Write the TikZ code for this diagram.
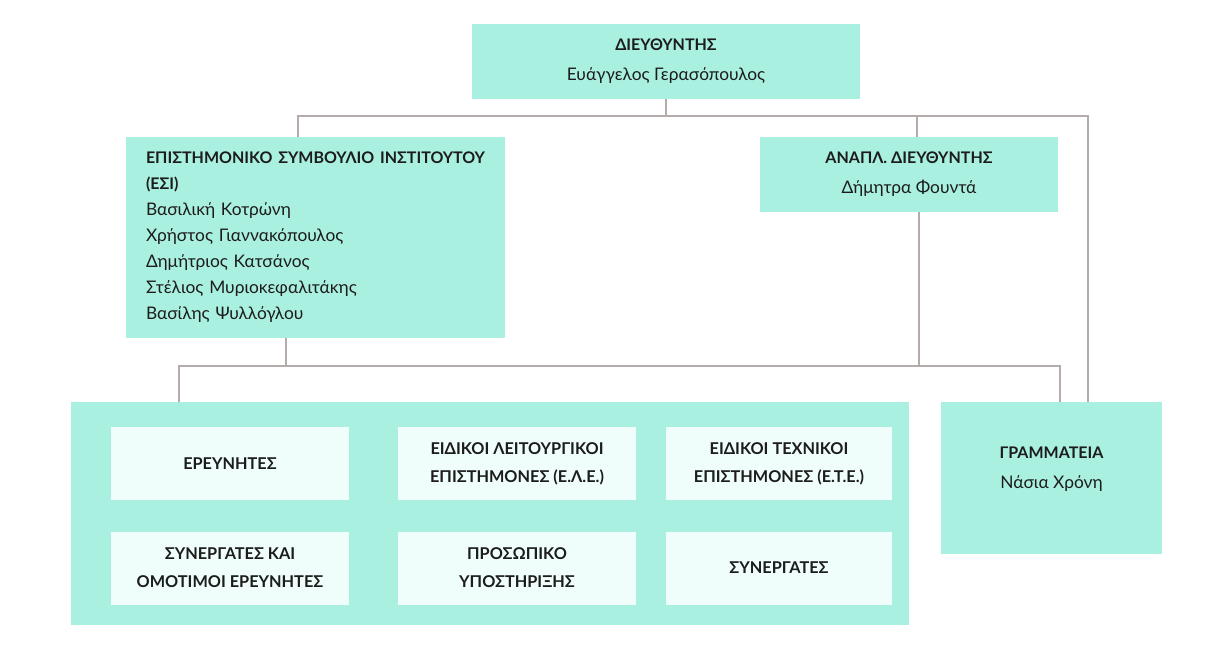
\documentclass[tikz,border=0pt]{standalone}
\usepackage{fontspec}
\setmainfont{Lato}
\usepackage{xcolor}
\definecolor{boxBack}  {HTML}{AAF0E1}
\definecolor{cellBack} {HTML}{EFFEFB}
\definecolor{linkGray} {HTML}{B6ABAB}
\definecolor{ink}      {HTML}{1C1C1C}
\usetikzlibrary{positioning, calc}
\newcommand{\hd}[1]{{\fontsize{12}{22.5}\selectfont\bfseries #1}}
\tikzset{
    unit/.style={rectangle, fill=boxBack, inner sep=0pt, text=ink,
                 font=\fontsize{13}{22.5}\selectfont, align=center},
    council/.style={unit, align=left, inner xsep=15pt,
                 font=\fontsize{13}{19.5}\selectfont},
    cell/.style={rectangle, fill=cellBack, inner sep=0pt, text=ink,
                 minimum width=178.5pt, minimum height=54.75pt, align=center,
                 font=\bfseries\fontsize{12.2}{21}\selectfont},
    plain/.style={inner sep=0pt, text=ink, align=center,
                 font=\fontsize{13}{22.5}\selectfont},
    link/.style={-, line width=1.5pt, linkGray},
}

\begin{document}
\begin{tikzpicture}[x=0.75pt, y=-0.75pt]
    \useasboundingbox (0,0) rectangle (1213,667);

    \node[unit, minimum width=291pt, minimum height=56.25pt] (dir) at (666,61.5)
        {\hd{ΔΙΕΥΘΥΝΤΗΣ}\\Ευάγγελος Γερασόπουλος};
    \node[council, text width=254.25pt, minimum height=150.75pt] (esi) at (315.5,237.5)
        {\hd{ΕΠΙΣΤΗΜΟΝΙΚΟ ΣΥΜΒΟΥΛΙΟ ΙΝΣΤΙΤΟΥΤΟΥ}\\\hd{(ΕΣΙ)}\\
         Βασιλική Κοτρώνη\\Χρήστος Γιαννακόπουλος\\Δημήτριος Κατσάνος\\
         Στέλιος Μυριοκεφαλιτάκης\\Βασίλης Ψυλλόγλου};
    \node[unit, minimum width=223.5pt, minimum height=56.25pt] (dep) at (909,174.5)
        {\hd{ΑΝΑΠΛ. ΔΙΕΥΘΥΝΤΗΣ}\\Δήμητρα Φουντά};
    \node[unit, minimum width=628.5pt, minimum height=167.25pt] (staff) at (490,513.5) {};
    \node[unit, minimum width=165.75pt, minimum height=114pt] (sec) at (1051.5,478) {};
    \node[plain] (sectext) at ($(sec.north)+(0,67)$)
        {\hd{ΓΡΑΜΜΑΤΕΙΑ}\\Νάσια Χρόνη};

    \node[cell] (res)   at (230,463.5) {ΕΡΕΥΝΗΤΕΣ};
    \node[cell] (ele)   at (517,463.5) {ΕΙΔΙΚΟΙ ΛΕΙΤΟΥΡΓΙΚΟΙ\\ΕΠΙΣΤΗΜΟΝΕΣ (Ε.Λ.Ε.)};
    \node[cell, minimum width=169.5pt] (ete) at (779,463.5) {ΕΙΔΙΚΟΙ ΤΕΧΝΙΚΟΙ\\ΕΠΙΣΤΗΜΟΝΕΣ (Ε.Τ.Ε.)};
    \node[cell] (emer)  at (230,568) {ΣΥΝΕΡΓΑΤΕΣ ΚΑΙ\\ΟΜΟΤΙΜΟΙ ΕΡΕΥΝΗΤΕΣ};
    \node[cell] (supp)  at (517,568) {ΠΡΟΣΩΠΙΚΟ\\ΥΠΟΣΤΗΡΙΞΗΣ};
    \node[cell, minimum width=169.5pt] (coll) at (779,568) {ΣΥΝΕΡΓΑΤΕΣ};

    \coordinate (upL) at (298,116);
    \coordinate (upR) at (1088,116);
    \coordinate (upD) at (917,116);
    \coordinate (lowL) at (179,366);
    \coordinate (lowR) at (1060,366);
    \coordinate (lowE) at (286,366);
    \coordinate (lowD) at (919,366);

    \draw[link] (dir.south) -- (dir.south |- upL);
    \draw[link] (upL |- esi.north) -- (upL) -- (upR) -- (upR |- sec.north);
    \draw[link] (upD) -- (upD |- dep.north);
    \draw[link] (lowE |- esi.south) -- (lowE);
    \draw[link] (lowD |- dep.south) -- (lowD);
    \draw[link] (lowL |- staff.north) -- (lowL) -- (lowR) -- (lowR |- sec.north);
\end{tikzpicture}
\end{document}
